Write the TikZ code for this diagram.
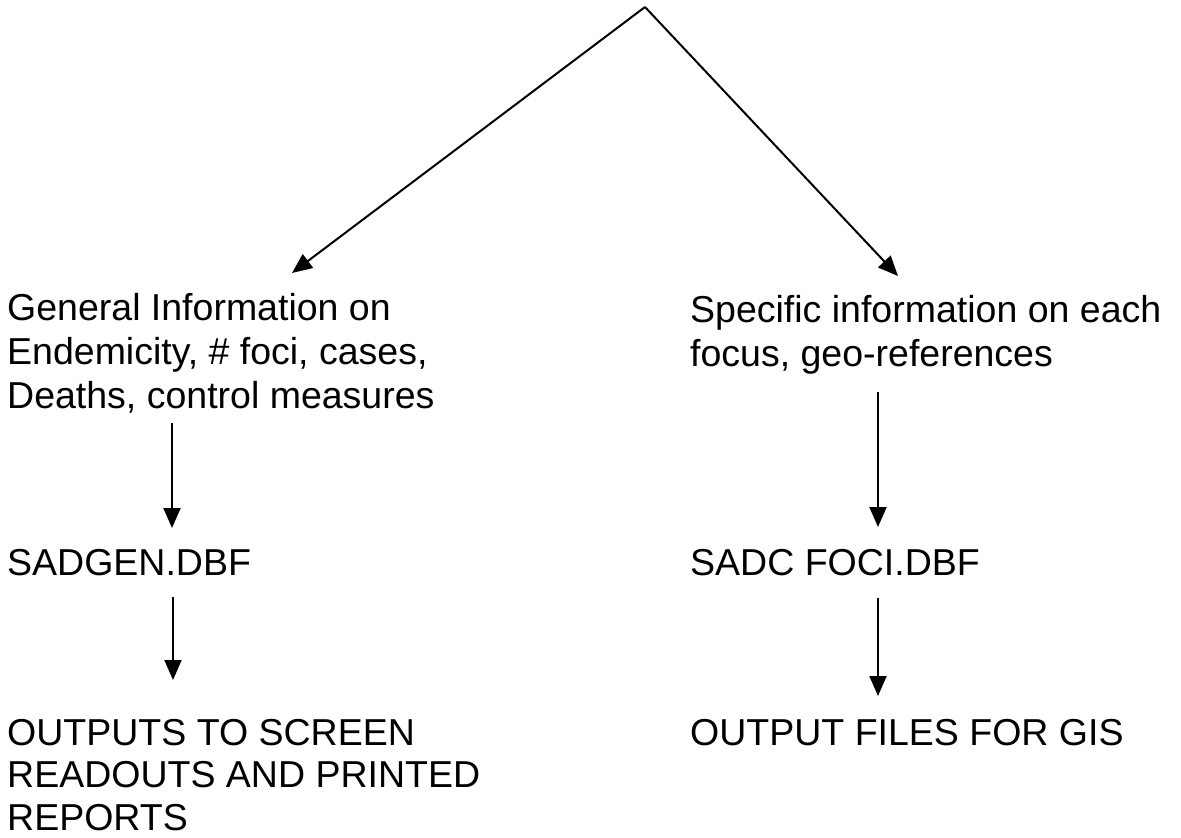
\documentclass[tikz,border=0pt]{standalone}
\usepackage{fontspec}
\setmainfont{Liberation Sans}
\usetikzlibrary{arrows.meta}
\begin{document}
\begin{tikzpicture}
  [x=1pt,y=-1pt,
   every node/.style={anchor=north west,inner sep=0pt,align=left,
     font=\fontsize{37.5}{44}\selectfont},
   flow/.style={-{Triangle[length=20pt,width=17pt]},line width=2pt}]
\useasboundingbox (0,0) rectangle (1181,838);
  % Vertice superior y puntas de las flechas diagonales
  \coordinate (top) at (645,7);
  \coordinate (g0)  at (292,273);
  \coordinate (s0)  at (898,276);

  % Columna izquierda
  \node (gen)    at (7,293) {General Information on\\Endemicity, \# foci, cases,\\Deaths, control measures};
  \node (sadgen) at (7,549) {SADGEN.DBF};
  \node (out)    at (7,719) [font=\fontsize{37.5}{42.5}\selectfont]
                 {OUTPUTS TO SCREEN\\READOUTS AND PRINTED\\REPORTS};

  % Columna derecha
  \node (spec) at (690,295) {Specific information on each\\focus, geo-references};
  \node (foci) at (690,549) {SADC FOCI.DBF};
  \node (gis)  at (690,719) {OUTPUT FILES FOR GIS};

  % Extremos de las flechas verticales
  \coordinate (g1) at (172,423);  \coordinate (g2) at (172,528);
  \coordinate (g3) at (173,597);  \coordinate (g4) at (173,680);
  \coordinate (s1) at (878,392);  \coordinate (s2) at (878,527);
  \coordinate (s3) at (878,598);  \coordinate (s4) at (878,696);

  \draw[flow] (top) -- (g0);
  \draw[flow] (top) -- (s0);
  \foreach \from/\to in {g1/g2, g3/g4, s1/s2, s3/s4}
    \draw[flow] (\from) -- (\to);
\end{tikzpicture}
\end{document}
